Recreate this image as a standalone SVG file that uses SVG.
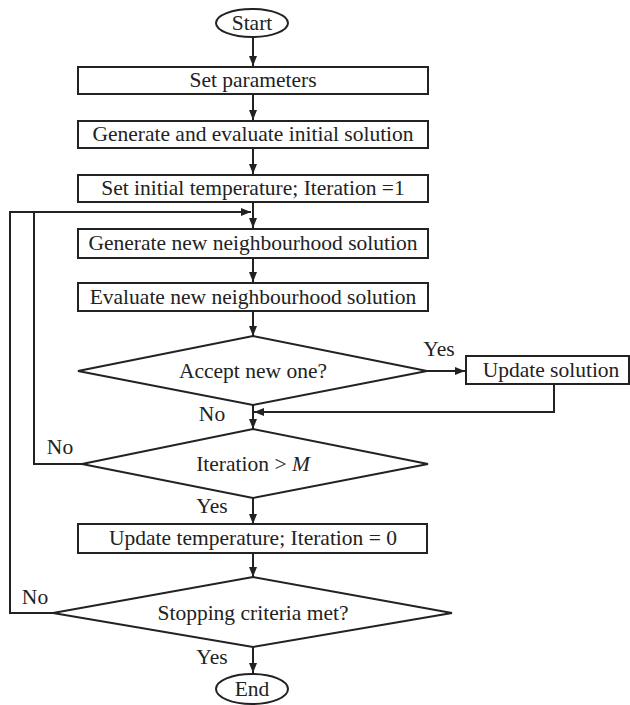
<svg xmlns="http://www.w3.org/2000/svg" width="630" height="705" viewBox="0 0 630 705">
<style>
.n{fill:#fff;stroke:#222;stroke-width:2}
.t{font-family:"Liberation Serif","Times New Roman",serif;font-size:21.5px;fill:#222;text-anchor:middle}
.c{fill:none;stroke:#222;stroke-width:2}
</style>
<defs>
<marker id="a" viewBox="0 0 10 10" refX="10" refY="5" markerWidth="10" markerHeight="10" markerUnits="userSpaceOnUse" orient="auto">
<path d="M0,1 L10,5 L0,9 Z" fill="#222"/>
</marker>
</defs>
<rect width="630" height="705" fill="#fff"/>
<g id="connectors">
<line class="c" x1="253" y1="37" x2="253" y2="66" marker-end="url(#a)"/>
<line class="c" x1="253" y1="94" x2="253" y2="120" marker-end="url(#a)"/>
<line class="c" x1="253" y1="148" x2="253" y2="174" marker-end="url(#a)"/>
<line class="c" x1="253" y1="202" x2="253" y2="228" marker-end="url(#a)"/>
<line class="c" x1="253" y1="258" x2="253" y2="282" marker-end="url(#a)"/>
<line class="c" x1="253" y1="311" x2="253" y2="336" marker-end="url(#a)"/>
<line class="c" x1="427" y1="371" x2="465" y2="371" marker-end="url(#a)"/>
<polyline class="c" points="554,384 554,412 254,412" marker-end="url(#a)"/>
<line class="c" x1="253" y1="405" x2="253" y2="429" marker-end="url(#a)"/>
<line class="c" x1="253" y1="498" x2="253" y2="524" marker-end="url(#a)"/>
<line class="c" x1="253" y1="553" x2="253" y2="577" marker-end="url(#a)"/>
<line class="c" x1="253" y1="647" x2="253" y2="673" marker-end="url(#a)"/>
<polyline class="c" points="82,464 34,464 34,212"/>
<polyline class="c" points="53,613 10,613 10,212 251,212" marker-end="url(#a)"/>
<text class="t" x="439" y="356">Yes</text>
<text class="t" x="212" y="421">No</text>
<text class="t" x="60" y="454">No</text>
<text class="t" x="212" y="513">Yes</text>
<text class="t" x="35" y="604">No</text>
<text class="t" x="212" y="664">Yes</text>
</g>
<g id="start"><ellipse class="n" cx="252" cy="23" rx="36" ry="14"/><text class="t" x="252" y="30">Start</text></g>
<g id="set-params"><rect class="n" x="78" y="67" width="350" height="27"/><text class="t" x="253" y="87">Set parameters</text></g>
<g id="gen-init"><rect class="n" x="78" y="121" width="350" height="27"/><text class="t" x="253" y="141">Generate and evaluate initial solution</text></g>
<g id="set-temp"><rect class="n" x="78" y="175" width="350" height="27"/><text class="t" x="253" y="195">Set initial temperature; Iteration =1</text></g>
<g id="gen-new"><rect class="n" x="78" y="229" width="350" height="29"/><text class="t" x="253" y="250">Generate new neighbourhood solution</text></g>
<g id="eval-new"><rect class="n" x="78" y="283" width="350" height="28"/><text class="t" x="253" y="304">Evaluate new neighbourhood solution</text></g>
<g id="accept"><polygon class="n" points="253,336 427,371 253,405 78,371"/><text class="t" x="253" y="378">Accept new one?</text></g>
<g id="update-sol"><rect class="n" x="466" y="356" width="163" height="28"/><text class="t" x="551" y="377">Update solution</text></g>
<g id="iter"><polygon class="n" points="253,429 428,464 253,498 82,464"/><text class="t" x="253" y="471">Iteration &gt; <tspan font-style="italic">M</tspan></text></g>
<g id="update-temp"><rect class="n" x="78" y="524" width="349" height="29"/><text class="t" x="253" y="545">Update temperature; Iteration = 0</text></g>
<g id="stop"><polygon class="n" points="253,577 452,613 253,647 53,613"/><text class="t" x="253" y="620">Stopping criteria met?</text></g>
<g id="end"><ellipse class="n" cx="252" cy="689" rx="36" ry="15"/><text class="t" x="252" y="696">End</text></g>
</svg>
